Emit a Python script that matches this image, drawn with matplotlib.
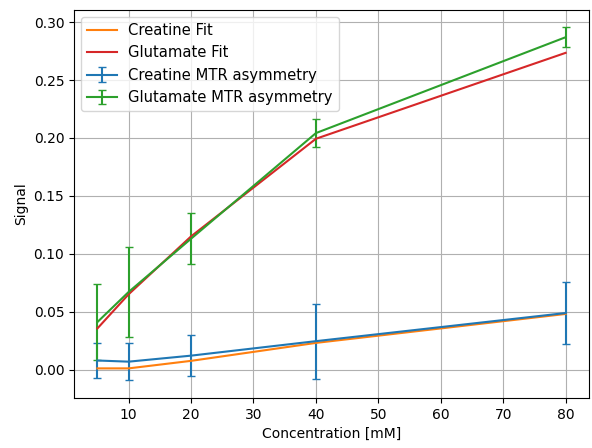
import matplotlib
matplotlib.use('Agg')
import matplotlib.pyplot as plt

conc = [5, 10, 20, 40, 80]

creatine_mtr = [0.0078, 0.0068, 0.0120, 0.0245, 0.0488]
creatine_err = [0.0148, 0.0160, 0.0180, 0.0325, 0.0265]
glutamate_mtr = [0.0410, 0.0670, 0.1130, 0.2042, 0.2870]
glutamate_err = [0.0325, 0.0390, 0.0220, 0.0120, 0.0084]

creatine_fit = [0.0010, 0.0010, 0.0075, 0.0230, 0.0480]
glutamate_fit = [0.0355, 0.0650, 0.1150, 0.1993, 0.2735]

fig, ax = plt.subplots(figsize=(5.92, 4.48), dpi=100)

ax.errorbar(conc, creatine_mtr, yerr=creatine_err, color='tab:blue',
            capsize=3, label='Creatine MTR asymmetry')
ax.errorbar(conc, glutamate_mtr, yerr=glutamate_err, color='tab:green',
            capsize=3, label='Glutamate MTR asymmetry')
ax.plot(conc, creatine_fit, color='tab:orange', label='Creatine Fit')
ax.plot(conc, glutamate_fit, color='tab:red', label='Glutamate Fit')

ax.set_xlabel('Concentration [mM]')
ax.set_ylabel('Signal')
ax.grid(True)

# lines come before errorbar containers in the default legend order
ax.legend(loc='upper left', fontsize=10.6)

fig.subplots_adjust(left=0.125, right=0.995, top=0.978, bottom=0.112)
fig.savefig('out.png')
